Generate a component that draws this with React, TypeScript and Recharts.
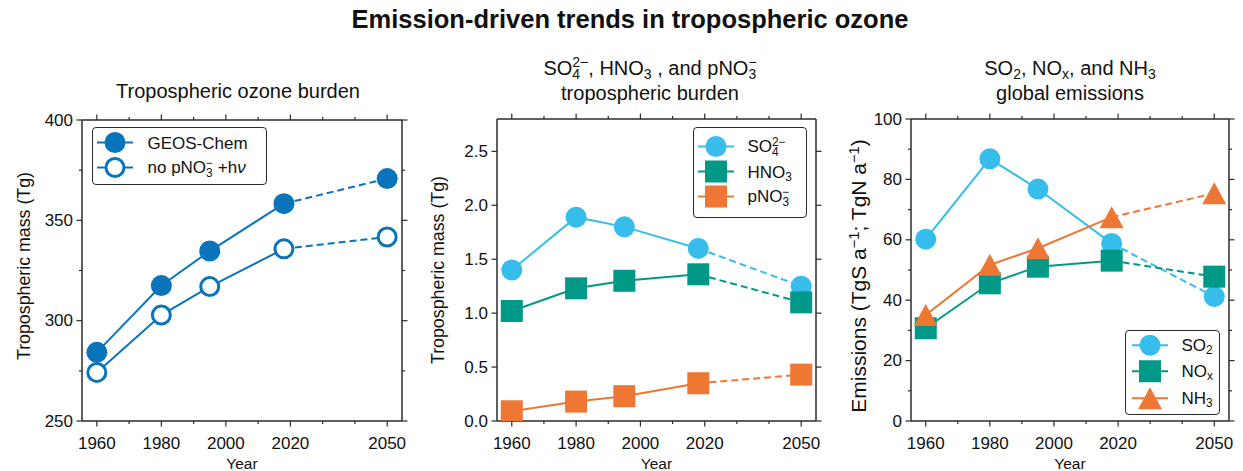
import React from 'react';
import { LineChart, Line, XAxis, YAxis, Legend, Label } from 'recharts';

// years of the model runs; the line is solid up to 2018 and dashed to 2050
const years = [1960, 1980, 1995, 2018, 2050];
const lastObsIdx = 3;

const ozoneGeosChem = [284.2, 317.5, 334.7, 358.3, 370.8];
const ozoneNoPhotolysis = [274.2, 302.8, 317.0, 335.8, 341.7];

const burdenSO4 = [1.4, 1.89, 1.8, 1.6, 1.25];
const burdenHNO3 = [1.02, 1.23, 1.3, 1.36, 1.1];
const burdenPNO3 = [0.09, 0.18, 0.23, 0.35, 0.43];

const emisSO2 = [60.2, 86.8, 76.8, 58.8, 41.2];
const emisNOx = [30.7, 45.6, 51.1, 53.1, 47.8];
const emisNH3 = [35.1, 51.7, 57.2, 67.5, 75.4];

const xMajorTicks = [1960, 1980, 2000, 2020, 2050];
const xMinorTicks = [1970, 1990, 2010, 2030, 2040];
const xDomain: [number, number] = [1955.4, 2054.6];

const ozoneTicks = [250, 275, 300, 325, 350, 375, 400];
const ozoneMajor = [250, 300, 350, 400];
const burdenTicks = [0, 0.5, 1.0, 1.5, 2.0, 2.5];
const emisTicks = [0, 10, 20, 30, 40, 50, 60, 70, 80, 90, 100];
const emisMajor = [0, 20, 40, 60, 80, 100];

const BLUE = '#0a74bb';
const CYAN = '#36bdec';
const TEAL = '#009988';
const ORANGE = '#ee7733';
const AXIS = '#2b2b2b';
const INK = '#111';
const FONT = '"Liberation Sans", Arial, Helvetica, sans-serif';
const TICK_FONT = 17;

type Shape = 'circle' | 'ring' | 'square' | 'triangle';

const Marker = ({ shape, color, x, y }: { shape: Shape; color: string; x: number; y: number }) => {
  if (shape === 'ring') return <circle cx={x} cy={y} r={9} fill="#fff" stroke={color} strokeWidth={3} />;
  if (shape === 'square') return <rect x={x - 11} y={y - 11} width={22} height={22} fill={color} />;
  if (shape === 'triangle')
    return <polygon points={`${x},${y - 11} ${x - 12},${y + 11} ${x + 12},${y + 11}`} fill={color} />;
  return <circle cx={x} cy={y} r={10.5} fill={color} />;
};

const dotFor = (shape: Shape, color: string, fromIdx: number) => (p: any) => {
  const { cx, cy, index } = p;
  if (cx == null || cy == null || index < fromIdx) return <g key={`e${index}`} />;
  return <Marker key={`m${index}`} shape={shape} color={color} x={cx} y={cy} />;
};

// stacked super/subscript, e.g. NO3 with a minus on top
const SupSub = ({ sup, sub }: { sup: string; sub: string }) => (
  <span style={{ display: 'inline-block', verticalAlign: '-0.32em', fontSize: '0.7em', lineHeight: 0.88, textAlign: 'left' }}>
    {sup}
    <br />
    {sub}
  </span>
);
const Sub = ({ children }: { children: React.ReactNode }) => (
  <sub style={{ fontSize: '0.7em', lineHeight: 0, verticalAlign: '-0.3em' }}>{children}</sub>
);
const Sup = ({ children }: { children: React.ReactNode }) => (
  <sup style={{ fontSize: '0.7em', lineHeight: 0, verticalAlign: '0.5em' }}>{children}</sup>
);

interface SeriesDef {
  key: string;
  values: number[];
  color: string;
  shape: Shape;
  label: React.ReactNode;
}

interface LegendDef {
  left: number;
  top: number;
  width: number;
  padTop: number;
  rowH: number;
  markerX: number;
  textX: number;
}

const LegendBox = ({ items, cfg }: { items: SeriesDef[]; cfg: LegendDef }) => (
  <div
    style={{
      border: `1.5px solid ${AXIS}`,
      borderRadius: 4,
      background: '#fff',
      width: cfg.width,
      boxSizing: 'border-box',
      paddingTop: cfg.padTop,
      paddingBottom: cfg.padTop + 2,
      fontFamily: FONT,
      color: INK,
    }}
  >
    {items.map((it) => (
      <div key={it.key} style={{ position: 'relative', height: cfg.rowH }}>
        <svg width={40} height={cfg.rowH} style={{ position: 'absolute', left: cfg.markerX - 1.5 - 18, top: 0 }}>
          <line x1={0} x2={36} y1={cfg.rowH / 2} y2={cfg.rowH / 2} stroke={it.color} strokeWidth={2} />
          <Marker shape={it.shape} color={it.color} x={18} y={cfg.rowH / 2} />
        </svg>
        <span
          style={{
            position: 'absolute',
            left: cfg.textX - 1.5,
            top: '50%',
            transform: 'translateY(-50%)',
            fontSize: 17,
            whiteSpace: 'nowrap',
            lineHeight: 1,
          }}
        >
          {it.label}
        </span>
      </div>
    ))}
  </div>
);

const tickText: React.CSSProperties = { fontSize: TICK_FONT, fontFamily: FONT, fill: INK };

const makeXTick = (side: 'bottom' | 'top') => (props: any) => {
  const { x, y, payload } = props;
  const major = xMajorTicks.includes(payload.value);
  const len = major ? 5.5 : 3;
  const dir = side === 'bottom' ? 1 : -1;
  return (
    <g>
      <line x1={x} x2={x} y1={y} y2={y + dir * len} stroke={AXIS} strokeWidth={1.2} />
      {side === 'bottom' && major && (
        <text x={x} y={y + 22} textAnchor="middle" dominantBaseline="central" style={tickText}>
          {payload.value}
        </text>
      )}
    </g>
  );
};

const makeYTick = (side: 'left' | 'right', major: number[], fmt: (v: number) => string) => (props: any) => {
  const { x, y, payload } = props;
  const isMajor = major.includes(payload.value);
  const len = isMajor ? 5.5 : 3;
  const dir = side === 'left' ? -1 : 1;
  return (
    <g>
      <line x1={x} x2={x + dir * len} y1={y} y2={y} stroke={AXIS} strokeWidth={1.2} />
      {side === 'left' && isMajor && (
        <text x={x - 9} y={y} textAnchor="end" dominantBaseline="central" style={tickText}>
          {fmt(payload.value)}
        </text>
      )}
    </g>
  );
};

interface PanelProps {
  left: number;
  width: number;
  plot: { left: number; right: number; top: number; bottom: number };
  yDomain: [number, number];
  yTicks: number[];
  yMajor: number[];
  yFmt: (v: number) => string;
  series: SeriesDef[];
  legend: LegendDef;
}

const allXTicks = [...xMajorTicks, ...xMinorTicks].sort((a, b) => a - b);

const Panel = ({ left, width, plot, yDomain, yTicks, yMajor, yFmt, series, legend }: PanelProps) => {
  const rows = years.map((year, i) => {
    const row: Record<string, number | null> = { year };
    series.forEach((s) => {
      row[s.key] = i <= lastObsIdx ? s.values[i] : null;
      row[s.key + 'Proj'] = i >= lastObsIdx ? s.values[i] : null;
    });
    return row;
  });
  // every axis is 1px thick, so the plot box is the margin plus that pixel
  const margin = {
    top: plot.top - 1,
    bottom: 471 - plot.bottom - 1,
    left: plot.left - left - 1,
    right: left + width - plot.right - 1,
  };

  return (
    <div style={{ position: 'absolute', left, top: 0 }}>
      <LineChart width={width} height={471} data={rows} margin={margin}>
        <XAxis
          xAxisId="b"
          dataKey="year"
          type="number"
          domain={xDomain}
          allowDataOverflow
          ticks={allXTicks}
          interval={0}
          height={1}
          tickSize={0}
          tickMargin={0}
          tickLine={false}
          tick={makeXTick('bottom')}
          axisLine={{ stroke: AXIS, strokeWidth: 1.5 }}
        >
          <Label value="Year" position="bottom" offset={36} style={{ fontSize: 15.5, fill: INK }} />
        </XAxis>
        <XAxis
          xAxisId="t"
          orientation="top"
          dataKey="year"
          type="number"
          domain={xDomain}
          allowDataOverflow
          ticks={allXTicks}
          interval={0}
          height={1}
          tickSize={0}
          tickMargin={0}
          tickLine={false}
          tick={makeXTick('top')}
          axisLine={{ stroke: AXIS, strokeWidth: 1.5 }}
        />
        <YAxis
          yAxisId="l"
          type="number"
          domain={yDomain}
          allowDataOverflow
          ticks={yTicks}
          interval={0}
          width={1}
          tickSize={0}
          tickMargin={0}
          tickLine={false}
          tick={makeYTick('left', yMajor, yFmt)}
          axisLine={{ stroke: AXIS, strokeWidth: 1.5 }}
        />
        <YAxis
          yAxisId="r"
          orientation="right"
          type="number"
          domain={yDomain}
          allowDataOverflow
          ticks={yTicks}
          interval={0}
          width={1}
          tickSize={0}
          tickMargin={0}
          tickLine={false}
          tick={makeYTick('right', yMajor, yFmt)}
          axisLine={{ stroke: AXIS, strokeWidth: 1.5 }}
        />
        {series.flatMap((s) => [
          <Line
            key={s.key}
            xAxisId="b"
            yAxisId="l"
            type="linear"
            dataKey={s.key}
            stroke={s.color}
            strokeWidth={2}
            dot={dotFor(s.shape, s.color, 0)}
            activeDot={false}
            legendType="none"
            isAnimationActive={false}
          />,
          <Line
            key={s.key + 'Proj'}
            xAxisId="b"
            yAxisId="l"
            type="linear"
            dataKey={s.key + 'Proj'}
            stroke={s.color}
            strokeWidth={2}
            strokeDasharray="7 4"
            dot={dotFor(s.shape, s.color, lastObsIdx + 1)}
            activeDot={false}
            legendType="none"
            isAnimationActive={false}
          />,
        ])}
        <Legend
          layout="horizontal"
          verticalAlign="middle"
          align="center"
          wrapperStyle={{ left: legend.left, top: legend.top, width: 'auto', height: 'auto' }}
          content={() => <LegendBox items={series} cfg={legend} />}
        />
      </LineChart>
    </div>
  );
};

const centered = (x: number, y: number, extra: React.CSSProperties = {}): React.CSSProperties => ({
  position: 'absolute',
  left: x,
  top: y,
  transform: 'translate(-50%, -50%)',
  whiteSpace: 'nowrap',
  lineHeight: 1.25,
  textAlign: 'center',
  ...extra,
});

const yLabel = (x: number, y: number, size: number): React.CSSProperties => ({
  ...centered(x, y),
  transform: 'translate(-50%, -50%) rotate(-90deg)',
  fontSize: size,
});

const ozoneSeries: SeriesDef[] = [
  { key: 'geos', values: ozoneGeosChem, color: BLUE, shape: 'circle', label: 'GEOS-Chem' },
  {
    key: 'nophot',
    values: ozoneNoPhotolysis,
    color: BLUE,
    shape: 'ring',
    label: (
      <>
        no pNO<SupSub sup="−" sub="3" /> +h<i>ν</i>
      </>
    ),
  },
];

const burdenSeries: SeriesDef[] = [
  { key: 'so4', values: burdenSO4, color: CYAN, shape: 'circle', label: <>SO<SupSub sup="2−" sub="4" /></> },
  { key: 'hno3', values: burdenHNO3, color: TEAL, shape: 'square', label: <>HNO<Sub>3</Sub></> },
  { key: 'pno3', values: burdenPNO3, color: ORANGE, shape: 'square', label: <>pNO<SupSub sup="−" sub="3" /></> },
];

const emisSeries: SeriesDef[] = [
  { key: 'so2', values: emisSO2, color: CYAN, shape: 'circle', label: <>SO<Sub>2</Sub></> },
  { key: 'nox', values: emisNOx, color: TEAL, shape: 'square', label: <>NO<Sub>x</Sub></> },
  { key: 'nh3', values: emisNH3, color: ORANGE, shape: 'triangle', label: <>NH<Sub>3</Sub></> },
];

export default function App() {
  return (
    <div
      style={{
        position: 'absolute',
        left: 0,
        top: 0,
        width: 1243,
        height: 471,
        background: '#fff',
        fontFamily: FONT,
        color: INK,
        overflow: 'hidden',
      }}
    >
      <div style={centered(630, 20, { fontSize: 25.5, fontWeight: 'bold' })}>
        Emission-driven trends in tropospheric ozone
      </div>

      <Panel
        left={0}
        width={415}
        plot={{ left: 82, right: 402, top: 120, bottom: 421 }}
        yDomain={[250, 400]}
        yTicks={ozoneTicks}
        yMajor={ozoneMajor}
        yFmt={(v) => String(v)}
        series={ozoneSeries}
        legend={{ left: 92, top: 127, width: 175, padTop: 2, rowH: 25, markerX: 23, textX: 56 }}
      />
      <Panel
        left={415}
        width={415}
        plot={{ left: 497, right: 816, top: 119, bottom: 421 }}
        yDomain={[0, 2.8]}
        yTicks={burdenTicks}
        yMajor={burdenTicks}
        yFmt={(v) => v.toFixed(1)}
        series={burdenSeries}
        legend={{ left: 278, top: 127, width: 114, padTop: 6, rowH: 25, markerX: 23, textX: 55 }}
      />
      <Panel
        left={830}
        width={413}
        plot={{ left: 911, right: 1229, top: 119, bottom: 421 }}
        yDomain={[0, 100]}
        yTicks={emisTicks}
        yMajor={emisMajor}
        yFmt={(v) => String(v)}
        series={emisSeries}
        legend={{ left: 295, top: 330, width: 95, padTop: 0.5, rowH: 26.5, markerX: 25, textX: 57 }}
      />

      <div style={centered(238, 91, { fontSize: 20 })}>Tropospheric ozone burden</div>
      <div style={centered(650, 81, { fontSize: 20 })}>
        SO<SupSub sup="2−" sub="4" />, HNO<Sub>3</Sub> , and pNO<SupSub sup="−" sub="3" />
        <br />
        tropospheric burden
      </div>
      <div style={centered(1070, 81, { fontSize: 20 })}>
        SO<Sub>2</Sub>, NO<Sub>x</Sub>, and NH<Sub>3</Sub>
        <br />
        global emissions
      </div>

      <div style={yLabel(24, 266, 17.8)}>Tropospheric mass (Tg)</div>
      <div style={yLabel(438, 270, 17.8)}>Tropospheric mass (Tg)</div>
      <div style={yLabel(859, 276, 21)}>
        Emissions (TgS a<Sup>−1</Sup>; TgN a<Sup>−1</Sup>)
      </div>
    </div>
  );
}
